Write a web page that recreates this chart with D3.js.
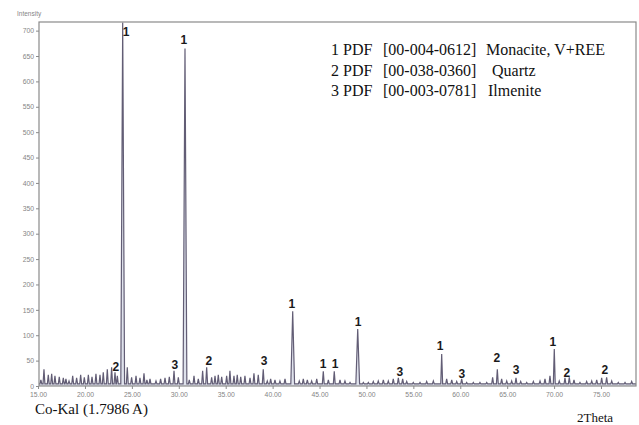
<!DOCTYPE html>
<html>
<head>
<meta charset="utf-8">
<script src="https://cdn.jsdelivr.net/npm/d3@7"></script>
<style>
body { margin: 0; background: #fff; }
</style>
</head>
<body>
<svg id="chart" width="639" height="425"></svg>
<script>
// diffraction pattern: peak positions (2theta) and heights (counts)
let peakTheta = [
    15.3, 15.63, 16.09, 16.45, 16.8, 17.26, 17.69, 17.97, 18.3, 18.69, 19.11, 19.54, 19.93,
    20.36, 20.75, 21.17, 21.6, 21.95, 22.38, 22.84, 23.2, 23.45, 24.02, 24.51, 24.97,
    25.44, 25.86, 26.29, 26.6, 26.93, 27.57, 28.06, 28.53, 28.99, 29.49, 29.95, 30.66,
    31.12, 31.62, 32.08, 32.54, 32.97, 33.5, 33.86, 34.21, 34.57, 35.1, 35.45, 35.88,
    36.23, 36.6, 37.05, 37.59, 38.01, 38.47, 39.0, 39.43, 39.79, 40.25, 40.78, 41.32,
    42.14, 42.84, 43.27, 43.7, 44.16, 44.7, 45.4, 45.94, 46.57, 47.18, 47.71, 48.25,
    49.07, 49.67, 50.2, 50.73, 51.26, 51.8, 52.33, 52.86, 53.4, 53.86, 54.29, 54.99,
    55.71, 56.42, 57.13, 58.02, 58.55, 59.09, 59.62, 60.15, 60.68, 61.39, 62.1, 62.82,
    63.45, 63.95, 64.41, 64.95, 65.48, 65.94, 66.44, 67.08, 67.79, 68.5, 69.03, 69.56,
    70.02, 70.55, 71.16, 71.62, 72.12, 72.76, 73.47, 74.01, 74.54, 75.07, 75.6, 76.14,
    76.84, 77.56, 78.27
];
let peakIntensity = [
    12, 33, 22, 24, 20, 18, 16, 14, 10, 20, 16, 22, 17,
    22, 18, 24, 22, 27, 33, 37, 27, 20, 716, 37, 17,
    20, 16, 25, 12, 14, 10, 14, 16, 18, 30, 17, 665,
    12, 20, 14, 30, 37, 17, 20, 22, 18, 20, 30, 20,
    22, 18, 20, 16, 25, 22, 33, 10, 14, 12, 10, 14,
    147, 10, 14, 12, 10, 14, 29, 12, 29, 12, 10, 7,
    112, 7, 7, 9, 10, 12, 10, 14, 16, 14, 9, 7,
    7, 9, 10, 63, 14, 12, 9, 14, 7, 7, 7, 7,
    17, 33, 14, 10, 10, 16, 9, 7, 9, 10, 14, 20,
    73, 10, 16, 17, 12, 7, 9, 10, 12, 16, 17, 10,
    7, 7, 9
];

// phase markers above the peaks
let labelTheta = [24.37, 30.55, 42.06, 49.1, 57.84, 69.88, 45.37, 46.65, 23.3, 29.59, 33.2, 39.08, 53.57, 60.18, 63.91, 65.94, 71.37, 75.42];
let labelIntensity = [697, 682, 162, 127, 78, 87, 44, 44, 38, 42, 50, 50, 28, 24, 56, 32, 26, 32];
let labelPhase = ["1", "1", "1", "1", "1", "1", "1", "1", "2", "3", "2", "3", "3", "3", "2", "3", "2", "2"];

let legendNumbers = ["1", "2", "3"];
let legendCodes = ["[00-004-0612]", "[00-038-0360]", "[00-003-0781]"];
let legendNames = ["Monacite, V+REE", "Quartz", "Ilmenite"];

let xTicks = [15, 20, 25, 30, 35, 40, 45, 50, 55, 60, 65, 70, 75];
let yTicks = [0, 50, 100, 150, 200, 250, 300, 350, 400, 450, 500, 550, 600, 650, 700];

let svg = d3.select("#chart");
let plotLeft = 39, plotRight = 636, plotTop = 22, plotBottom = 386;

let x = d3.scaleLinear().domain([15.1, 78.73]).range([plotLeft, plotRight]);
let y = d3.scaleLinear().domain([0, 717]).range([plotBottom, plotTop]);

svg.append("clipPath").attr("id", "plot-clip")
    .append("rect")
    .attr("x", plotLeft).attr("y", plotTop)
    .attr("width", plotRight - plotLeft).attr("height", plotBottom - plotTop);

// axes
let yAxis = svg.append("g")
    .attr("transform", `translate(${plotLeft},0)`)
    .call(d3.axisLeft(y).tickValues(yTicks).tickSize(3).tickPadding(2).tickFormat(d3.format("d")));
let xAxis = svg.append("g")
    .attr("transform", `translate(0,${plotBottom})`)
    .call(d3.axisBottom(x).tickValues(xTicks).tickSize(3).tickPadding(3).tickFormat(d3.format(".2f")));
for (let axis of [yAxis, xAxis]) {
    axis.select(".domain").remove();
    axis.selectAll("line").attr("stroke", "#8a8a8a");
    axis.selectAll("text")
        .attr("fill", "#858585")
        .style("font-family", "'Liberation Sans', Arial, sans-serif")
        .style("font-size", "6.8px");
}

svg.append("text")
    .attr("x", 17).attr("y", 16)
    .attr("fill", "#858585")
    .style("font-family", "'Liberation Sans', Arial, sans-serif")
    .style("font-size", "6.5px")
    .text("Intensity");

// pattern as narrow peaks on a flat background
let baseline = 4;
let peaks = peakTheta.map((t, i) => [t, peakIntensity[i]]).sort((a, b) => a[0] - b[0]);
let profile = [[x.domain()[0], baseline]];
for (let [t, h] of peaks) {
    let w = h > 100 ? 0.2 : 0.1;
    profile.push([t - w, baseline], [t, h], [t + w, baseline]);
}
profile.push([x.domain()[1], baseline]);

let plot = svg.append("g").attr("clip-path", "url(#plot-clip)");
plot.append("path")
    .datum(profile)
    .attr("fill", "#bfc5da")
    .attr("fill-opacity", 0.5)
    .attr("d", d3.area().x(d => x(d[0])).y0(y(0)).y1(d => y(d[1])));
plot.append("path")
    .datum(profile)
    .attr("fill", "none")
    .attr("stroke", "#625d75")
    .attr("stroke-width", 1.2)
    .attr("d", d3.line().x(d => x(d[0])).y(d => y(d[1])));

// frame
svg.append("rect")
    .attr("x", plotLeft).attr("y", plotTop)
    .attr("width", plotRight - plotLeft).attr("height", plotBottom - plotTop)
    .attr("fill", "none")
    .attr("stroke", "#8a8a8a")
    .attr("stroke-width", 1.2);

svg.append("g").selectAll("text")
    .data(labelTheta)
    .enter()
    .append("text")
    .attr("x", d => x(d))
    .attr("y", (d, i) => y(labelIntensity[i]))
    .attr("text-anchor", "middle")
    .attr("dominant-baseline", "central")
    .attr("fill", "#1a1a1a")
    .style("font-family", "'Liberation Sans', Arial, sans-serif")
    .style("font-weight", "bold")
    .style("font-size", "12px")
    .text((d, i) => labelPhase[i]);

// legend
let serif = "'Liberation Serif', 'Times New Roman', serif";
let legendNameX = [486, 492, 488];
let legend = svg.append("g")
    .style("font-family", serif)
    .style("font-size", "16px")
    .attr("fill", "#111");
legendNumbers.forEach((n, i) => {
    let baseY = 55 + i * 20.5;
    legend.append("text").attr("x", 331).attr("y", baseY).text(n);
    legend.append("text").attr("x", 343).attr("y", baseY).text("PDF");
    legend.append("text").attr("x", 383).attr("y", baseY).text(legendCodes[i]);
    legend.append("text").attr("x", legendNameX[i]).attr("y", baseY).text(legendNames[i]);
});

svg.append("text")
    .attr("x", 35).attr("y", 414)
    .style("font-family", serif)
    .style("font-size", "15px")
    .attr("fill", "#111")
    .text("Co-Kal (1.7986 A)");
svg.append("text")
    .attr("x", 577).attr("y", 422)
    .style("font-family", serif)
    .style("font-size", "13px")
    .attr("fill", "#111")
    .text("2Theta");
</script>
</body>
</html>
